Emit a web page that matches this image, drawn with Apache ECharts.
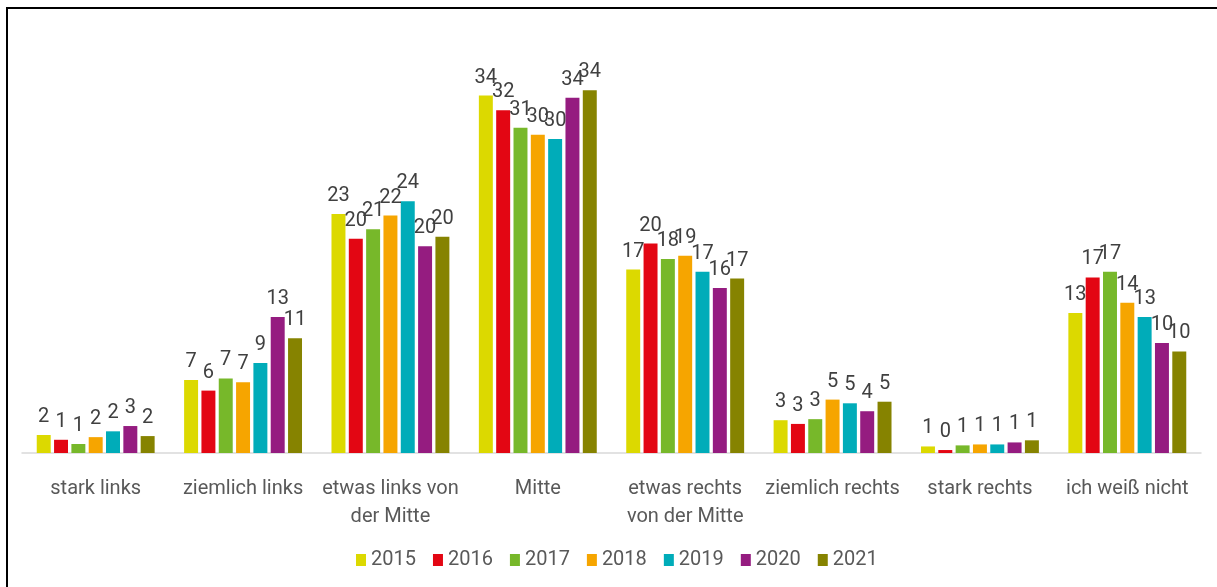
<!DOCTYPE html>
<html>
<head>
<meta charset="utf-8">
<script src="https://cdn.jsdelivr.net/npm/echarts@6/dist/echarts.min.js"></script>
<style>
    html, body { margin: 0; padding: 0; background: #fff; }
    #chart { position: absolute; left: 0; top: 0; width: 1217px; height: 587px; }
    #frame { position: absolute; left: 6px; top: 7px; right: 0; bottom: 0;
             border-top: 2px solid #000; border-left: 2px solid #000; pointer-events: none; }
</style>
</head>
<body>
<div id="chart"></div>
<div id="frame"></div>
<script>
// Kategorien (Selbsteinstufung links/rechts)
var categories = ['stark links', 'ziemlich links', 'etwas links von\nder Mitte', 'Mitte',
    'etwas rechts\nvon der Mitte', 'ziemlich rechts', 'stark rechts', 'ich weiß nicht'];

var years = ['2015', '2016', '2017', '2018', '2019', '2020', '2021'];

// Werte in Prozent
var v2015 = [1.7, 6.9, 22.6, 33.8, 17.35, 3.1, 0.62, 13.25];
var v2016 = [1.25, 5.9, 20.25, 32.4, 19.8, 2.75, 0.28, 16.6];
var v2017 = [0.85, 7.05, 21.15, 30.75, 18.35, 3.2, 0.72, 17.15];
var v2018 = [1.5, 6.7, 22.45, 30.1, 18.65, 5.05, 0.81, 14.2];
var v2019 = [2.05, 8.5, 23.8, 29.7, 17.15, 4.7, 0.81, 12.85];
var v2020 = [2.55, 12.85, 19.55, 33.6, 15.6, 3.95, 1.0, 10.4];
var v2021 = [1.6, 10.85, 20.45, 34.3, 16.5, 4.85, 1.2, 9.6];

var yearColors = ['#DCD900', '#E30613', '#77B82A', '#F6A500', '#00ACB9', '#951C80', '#868300'];

var fontStack = 'Roboto, "Noto Sans", sans-serif';

var chart = echarts.init(document.getElementById('chart'));

var seriesValues = [v2015, v2016, v2017, v2018, v2019, v2020, v2021];
var series = years.map(function (y, i) {
    return {
        name: y,
        type: 'bar',
        data: seriesValues[i],
        barGap: '24%',
        barCategoryGap: '20%',
        itemStyle: { color: yearColors[i] },
        label: {
            show: true,
            position: 'top',
            distance: 8,
            color: '#404040',
            fontFamily: fontStack,
            fontSize: 20,
            formatter: function (p) { return Math.round(p.value); }
        }
    };
});

var option = {
    animation: false,
    grid: { left: 22, right: 16, top: 30, bottom: 134, containLabel: false },
    legend: {
        data: years,
        bottom: 12,
        left: 351,
        itemWidth: 10,
        itemHeight: 12,
        itemGap: 17,
        icon: 'rect',
        textStyle: { color: '#595959', fontFamily: fontStack, fontSize: 20 }
    },
    xAxis: {
        type: 'category',
        data: categories,
        axisLine: { lineStyle: { color: '#d9d9d9', width: 1.5 } },
        axisTick: { show: false },
        axisLabel: {
            color: '#595959',
            fontFamily: fontStack,
            fontSize: 20,
            lineHeight: 28,
            margin: 22,
            interval: 0
        }
    },
    yAxis: {
        type: 'value',
        min: 0,
        max: 40,
        show: false,
        splitLine: { show: false }
    },
    series: series
};

chart.setOption(option);
</script>
</body>
</html>
